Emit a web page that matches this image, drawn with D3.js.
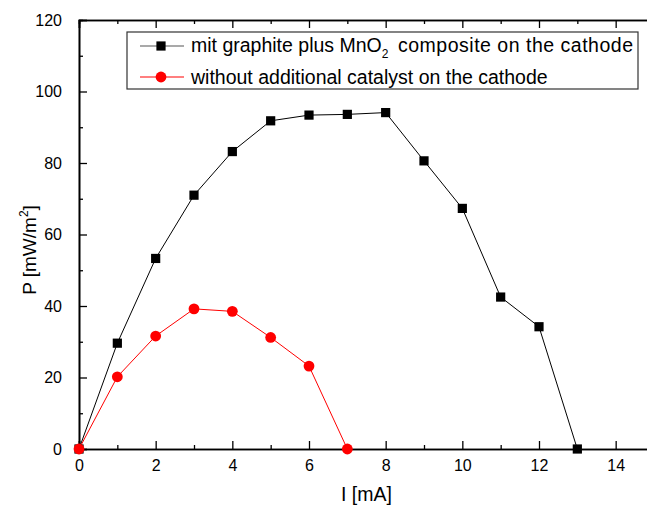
<!DOCTYPE html>
<html lang="en">
<head>
<meta charset="utf-8">
<title>P vs I</title>
<script src="https://cdn.jsdelivr.net/npm/d3@7"></script>
<style>
  body { margin: 0; background: #fff; }
  svg { font-family: "Liberation Sans", Arial, Helvetica, sans-serif; }
</style>
</head>
<body>
<div id="chart"></div>
<script>
// data
var currentMA = [0, 1, 2, 3, 4, 5, 6, 7, 8, 9, 10, 11, 12, 13]
var powerMnO2 = [0, 29.6, 53.3, 71.0, 83.2, 91.8, 93.4, 93.6, 94.1, 80.6, 67.3, 42.5, 34.2, 0]
var currentNoCat = [0, 1, 2, 3, 4, 5, 6, 7]
var powerNoCat = [0, 20.2, 31.6, 39.2, 38.5, 31.2, 23.2, 0]
var xTicks = [0, 2, 4, 6, 8, 10, 12, 14]
var xMinor = [1, 3, 5, 7, 9, 11, 13, 15]
var yTicks = [0, 20, 40, 60, 80, 100, 120]
var yMinor = [10, 30, 50, 70, 90, 110]

drawChart()

function drawChart(){
  var w = 647, h = 506
  var mLeft = 79, mRight = 654, mTop = 20, mBottom = 449

  var svg = d3.select("#chart").append("svg")
    .attr("width", w).attr("height", h)

  var x = d3.scaleLinear().domain([0, 15]).range([mLeft, mRight])
  var y = d3.scaleLinear().domain([0, 120]).range([mBottom, mTop])

  // axes, ticks point into the plot
  svg.append("g").attr("transform", "translate(0," + mBottom + ")")
    .call(d3.axisBottom(x).tickValues(xTicks).tickSize(-8).tickPadding(11).tickFormat(d3.format("d")))
  svg.append("g").attr("transform", "translate(0," + mBottom + ")")
    .call(d3.axisBottom(x).tickValues(xMinor).tickSize(-4).tickFormat(""))

  svg.append("g").attr("transform", "translate(0," + mTop + ")")
    .call(d3.axisTop(x).tickValues(xTicks).tickSize(-8).tickFormat(""))
  svg.append("g").attr("transform", "translate(0," + mTop + ")")
    .call(d3.axisTop(x).tickValues(xMinor).tickSize(-4).tickFormat(""))

  svg.append("g").attr("transform", "translate(" + mLeft + ",0)")
    .call(d3.axisLeft(y).tickValues(yTicks).tickSize(-8).tickPadding(17))
  svg.append("g").attr("transform", "translate(" + mLeft + ",0)")
    .call(d3.axisLeft(y).tickValues(yMinor).tickSize(-4).tickFormat(""))

  svg.selectAll(".domain").attr("stroke", "#000").attr("stroke-width", 1.6)
  svg.selectAll(".tick line").attr("stroke", "#000").attr("stroke-width", 1.3)
  svg.selectAll(".tick text").style("font-size", "16px").attr("fill", "#000")
    .style("font-family", "'Liberation Sans', Arial, sans-serif")

  // axis titles
  svg.append("text")
    .attr("x", (mLeft + mRight) / 2).attr("y", 501)
    .attr("text-anchor", "middle").style("font-size", "19.5px")
    .text("I [mA]")

  var yl = svg.append("text")
    .attr("transform", "translate(36,250) rotate(-90)")
    .attr("text-anchor", "middle").style("font-size", "19px")
  yl.append("tspan").text("P [mW/m")
  yl.append("tspan").style("font-size", "12px").attr("dy", -8).text("2")
  yl.append("tspan").attr("dy", 8).text("]")

  // series
  var line = d3.line().x(function(d){ return x(d[0]) }).y(function(d){ return y(d[1]) })

  var black = d3.zip(currentMA, powerMnO2)
  var red = d3.zip(currentNoCat, powerNoCat)

  svg.append("path").datum(black).attr("d", line)
    .attr("fill", "none").attr("stroke", "#000").attr("stroke-width", 1)
  svg.append("path").datum(red).attr("d", line)
    .attr("fill", "none").attr("stroke", "#ff0000").attr("stroke-width", 1)

  svg.selectAll("rect.pt").data(black).enter().append("rect")
    .attr("class", "pt")
    .attr("x", function(d){ return x(d[0]) - 4.6 })
    .attr("y", function(d){ return y(d[1]) - 4.6 })
    .attr("width", 9.2).attr("height", 9.2)
    .attr("fill", "#000")

  svg.selectAll("circle.pt").data(red).enter().append("circle")
    .attr("class", "pt")
    .attr("cx", function(d){ return x(d[0]) })
    .attr("cy", function(d){ return y(d[1]) })
    .attr("r", 5.4)
    .attr("fill", "#ff0000")

  // legend
  var lg = svg.append("g")
  lg.append("rect").attr("x", 127).attr("y", 32).attr("width", 511).attr("height", 57)
    .attr("fill", "#fff").attr("stroke", "#333").attr("stroke-width", 1.2)

  lg.append("line").attr("x1", 140).attr("x2", 184).attr("y1", 46).attr("y2", 46)
    .attr("stroke", "#555").attr("stroke-width", 1.1)
  lg.append("rect").attr("x", 161 - 4.6).attr("y", 46 - 4.6).attr("width", 9.2).attr("height", 9.2).attr("fill", "#000")
  var t1 = lg.append("text").attr("x", 191).attr("y", 52).style("font-size", "19.5px")
  t1.append("tspan").text("mit graphite plus MnO")
  t1.append("tspan").style("font-size", "12px").attr("dy", 6).text("2")
  t1.append("tspan").attr("x", 398).attr("dy", -6).attr("textLength", 235).text("composite on the cathode")

  lg.append("line").attr("x1", 140).attr("x2", 184).attr("y1", 77).attr("y2", 77)
    .attr("stroke", "#ff0000").attr("stroke-width", 1.1)
  lg.append("circle").attr("cx", 161).attr("cy", 77).attr("r", 5.4).attr("fill", "#ff0000")
  lg.append("text").attr("x", 191).attr("y", 84).style("font-size", "19.5px")
    .text("without additional catalyst on the cathode")
}
</script>
</body>
</html>
